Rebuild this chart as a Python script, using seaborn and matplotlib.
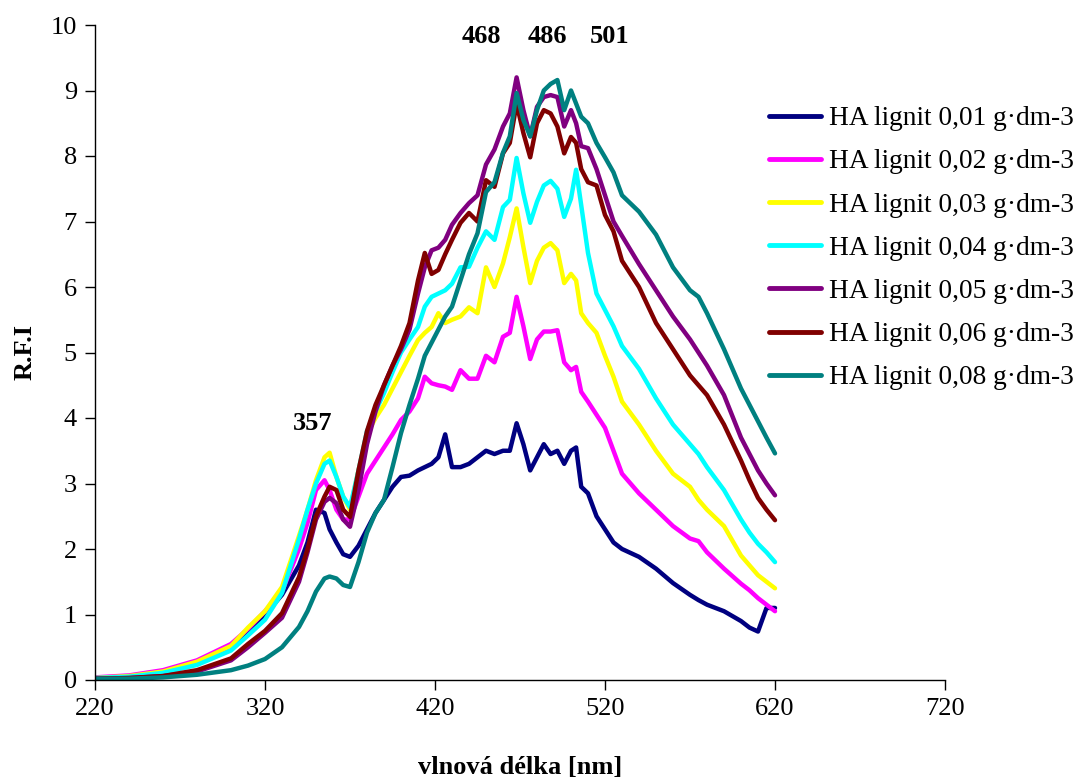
import numpy as np
import pandas as pd
import matplotlib
matplotlib.use("Agg")
import matplotlib.pyplot as plt
import seaborn as sns

wavelength = [220, 240, 260, 280, 300, 310, 320, 330, 340, 345, 350, 355, 358, 362, 366, 370, 375,
              380, 385, 390, 395, 400, 405, 410, 414, 418, 422, 426, 430, 435, 440, 445, 450, 455,
              460, 464, 468, 472, 476, 480, 484, 488, 492, 496, 500, 503, 506, 510, 515, 520, 525,
              530, 540, 550, 560, 570, 575, 580, 590, 600, 605, 610, 615, 620]

ha_001 = [0.03, 0.05, 0.12, 0.28, 0.52, 0.75, 1.0, 1.3, 1.75, 2.1, 2.6, 2.55, 2.3, 2.1, 1.92, 1.88, 2.05,
          2.3, 2.55, 2.75, 2.95, 3.1, 3.12, 3.2, 3.25, 3.3, 3.4, 3.75, 3.25, 3.25, 3.3, 3.4, 3.5, 3.45,
          3.5, 3.5, 3.92, 3.6, 3.2, 3.4, 3.6, 3.45, 3.5, 3.3, 3.5, 3.55, 2.95, 2.85, 2.5, 2.3, 2.1,
          2.0, 1.88, 1.7, 1.48, 1.3, 1.22, 1.15, 1.05, 0.9, 0.8, 0.74, 1.1, 1.1]

ha_002 = [0.04, 0.07, 0.15, 0.3, 0.55, 0.78, 1.05, 1.35, 2.0, 2.4, 2.9, 3.05, 2.9, 2.6, 2.45, 2.45, 2.8,
          3.15, 3.35, 3.55, 3.75, 3.97, 4.1, 4.3, 4.63, 4.53, 4.5, 4.48, 4.43, 4.73, 4.6, 4.6, 4.95, 4.85,
          5.24, 5.3, 5.85, 5.4, 4.9, 5.2, 5.32, 5.32, 5.34, 4.85, 4.73, 4.78, 4.4, 4.25, 4.05, 3.85, 3.5,
          3.15, 2.85, 2.6, 2.35, 2.16, 2.12, 1.95, 1.7, 1.47, 1.37, 1.25, 1.15, 1.05]

ha_003 = [0.03, 0.06, 0.13, 0.28, 0.52, 0.8, 1.05, 1.42, 2.2, 2.6, 3.05, 3.4, 3.47, 3.1, 2.8, 2.6, 3.2,
          3.75, 4.0, 4.2, 4.45, 4.7, 4.95, 5.19, 5.3, 5.39, 5.6, 5.45, 5.5, 5.55, 5.69, 5.6, 6.3, 6.0,
          6.36, 6.76, 7.2, 6.61, 6.06, 6.4, 6.6, 6.67, 6.56, 6.06, 6.2, 6.1, 5.6, 5.45, 5.3, 4.95, 4.63,
          4.25, 3.9, 3.5, 3.15, 2.95, 2.75, 2.6, 2.35, 1.9, 1.75, 1.6, 1.5, 1.4]

ha_004 = [0.03, 0.05, 0.11, 0.23, 0.45, 0.68, 0.92, 1.33, 2.15, 2.6, 3.0, 3.3, 3.35, 3.1, 2.8, 2.64, 3.2,
          3.8, 4.1, 4.38, 4.7, 5.0, 5.2, 5.39, 5.7, 5.85, 5.9, 5.95, 6.05, 6.3, 6.31, 6.6, 6.85, 6.72,
          7.22, 7.33, 7.97, 7.43, 6.98, 7.3, 7.55, 7.62, 7.5, 7.07, 7.35, 7.79, 7.25, 6.52, 5.9, 5.65, 5.4,
          5.1, 4.75, 4.3, 3.9, 3.6, 3.45, 3.25, 2.9, 2.45, 2.25, 2.08, 1.95, 1.8]

ha_005 = [0.02, 0.03, 0.06, 0.13, 0.3, 0.5, 0.72, 0.95, 1.5, 1.95, 2.45, 2.72, 2.78, 2.7, 2.45, 2.34, 2.9,
          3.6, 4.1, 4.5, 4.8, 5.05, 5.35, 5.9, 6.3, 6.56, 6.6, 6.72, 6.95, 7.13, 7.28, 7.4, 7.87, 8.1,
          8.45, 8.65, 9.2, 8.7, 8.3, 8.75, 8.9, 8.93, 8.9, 8.45, 8.7, 8.5, 8.15, 8.12, 7.8, 7.4, 7.0,
          6.78, 6.35, 5.95, 5.55, 5.2, 5.0, 4.8, 4.35, 3.7, 3.45, 3.2, 3.0, 2.82]

ha_006 = [0.02, 0.03, 0.06, 0.15, 0.33, 0.55, 0.75, 1.02, 1.57, 2.0, 2.5, 2.8, 2.95, 2.9, 2.6, 2.49, 3.2,
          3.8, 4.2, 4.5, 4.8, 5.1, 5.45, 6.1, 6.52, 6.2, 6.26, 6.5, 6.72, 6.98, 7.13, 7.0, 7.63, 7.53,
          8.04, 8.2, 8.8, 8.35, 7.98, 8.5, 8.7, 8.65, 8.45, 8.04, 8.29, 8.2, 7.8, 7.6, 7.55, 7.1, 6.85,
          6.4, 6.0, 5.45, 5.05, 4.65, 4.5, 4.35, 3.9, 3.35, 3.05, 2.78, 2.6, 2.44]

ha_008 = [0.02, 0.02, 0.04, 0.08, 0.15, 0.22, 0.32, 0.5, 0.81, 1.05, 1.35, 1.55, 1.58, 1.55, 1.45, 1.42, 1.8,
          2.25, 2.55, 2.75, 3.25, 3.77, 4.2, 4.6, 4.95, 5.15, 5.35, 5.55, 5.7, 6.1, 6.5, 6.82, 7.45, 7.6,
          8.05, 8.3, 8.96, 8.55, 8.3, 8.7, 9.0, 9.1, 9.16, 8.7, 9.0, 8.8, 8.6, 8.5, 8.2, 7.98, 7.75,
          7.4, 7.15, 6.8, 6.3, 5.95, 5.85, 5.6, 5.05, 4.45, 4.2, 3.95, 3.7, 3.46]

series_labels = ["HA lignit 0,01 g\u00b7dm-3", "HA lignit 0,02 g\u00b7dm-3", "HA lignit 0,03 g\u00b7dm-3",
                 "HA lignit 0,04 g\u00b7dm-3", "HA lignit 0,05 g\u00b7dm-3", "HA lignit 0,06 g\u00b7dm-3",
                 "HA lignit 0,08 g\u00b7dm-3"]
series_colors = ["#000080", "#FF00FF", "#FFFF00", "#00FFFF", "#800080", "#800000", "#008080"]

peak_labels = ["357", "468", "486", "501"]
peak_x = [348, 447, 486, 522.5]
peak_y = [3.92, 9.82, 9.82, 9.82]

x_ticks = [220, 320, 420, 520, 620, 720]
y_ticks = list(range(0, 11))

all_series = [ha_001, ha_002, ha_003, ha_004, ha_005, ha_006, ha_008]
frames = []
for lab, vals in zip(series_labels, all_series):
    frames.append(pd.DataFrame({"wl": wavelength, "rfi": vals, "series": lab}))
df = pd.concat(frames, ignore_index=True)

sns.set_theme(style="white")
plt.rcParams["font.family"] = ["Liberation Serif", "DejaVu Serif"]
plt.rcParams["text.color"] = "black"
plt.rcParams["axes.labelcolor"] = "black"
plt.rcParams["xtick.color"] = "black"
plt.rcParams["ytick.color"] = "black"

fig = plt.figure(figsize=(10.78, 7.8), dpi=100)
ax = fig.add_axes([95 / 1078, 100 / 780, 850 / 1078, 655 / 780])

sns.lineplot(data=df, x="wl", y="rfi", hue="series", hue_order=series_labels,
             palette=series_colors, linewidth=3.2, sort=False, estimator=None,
             ax=ax, legend=False)

ax.set_xlim(220, 720)
ax.set_ylim(0, 10)
ax.set_xticks(x_ticks)
ax.set_yticks(y_ticks)
ax.tick_params(axis="both", which="major", labelsize=19, direction="out", length=7,
               width=1, color="black", labelcolor="black", pad=6, bottom=True, left=True)
for s in ["top", "right"]:
    ax.spines[s].set_visible(False)
for s in ["left", "bottom"]:
    ax.spines[s].set_color("black")
    ax.spines[s].set_linewidth(1)

ax.set_xlabel("vlnová délka [nm]", fontsize=19, fontweight="bold", labelpad=26, color="black")
ax.set_ylabel("R.F.I", fontsize=19, fontweight="bold", labelpad=10, color="black")

for t, xx, yy in zip(peak_labels, peak_x, peak_y):
    ax.text(xx, yy, t, fontsize=19, fontweight="bold", ha="center", va="center", color="black")

handles = [plt.Line2D([], [], color=c, lw=3.5) for c in series_colors]
leg = fig.legend(handles, series_labels, loc="upper left", bbox_to_anchor=(769 / 1078, 1 - 106 / 780),
                 frameon=False, fontsize=19.7, handlelength=1.9, handletextpad=0.3,
                 labelspacing=0.66, borderpad=0, borderaxespad=0)
for t in leg.get_texts():
    t.set_color("black")

fig.savefig("out.png", dpi=100)
